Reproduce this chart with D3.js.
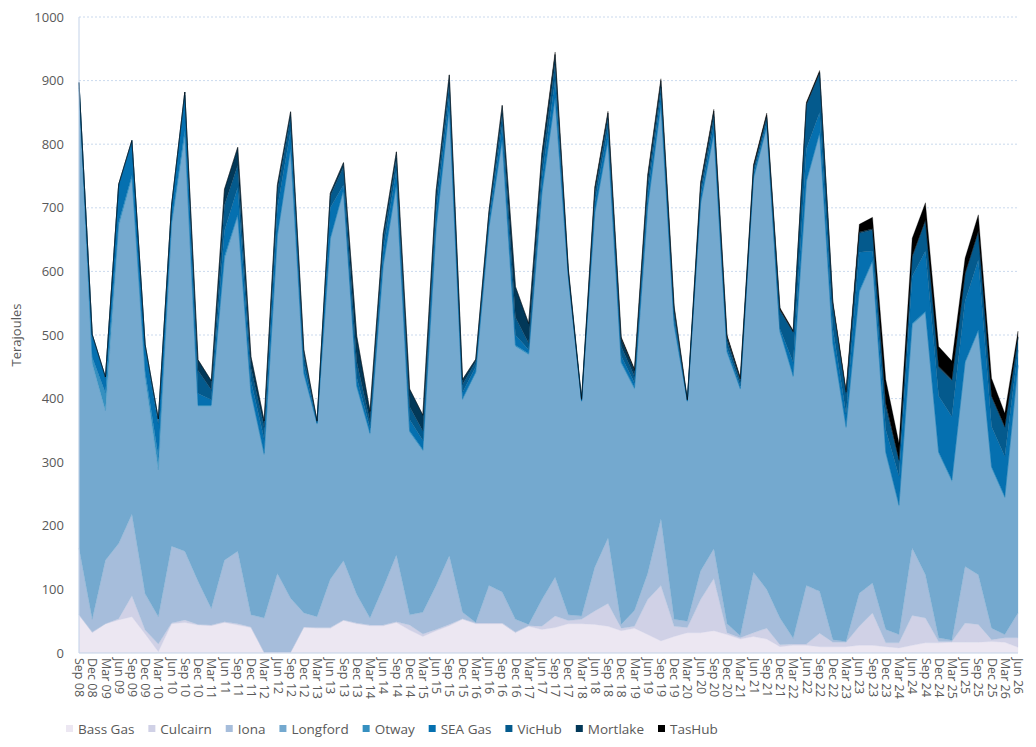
<!DOCTYPE html>
<html>
<head>
<meta charset="utf-8">
<script src="https://cdn.jsdelivr.net/npm/d3@7"></script>
<style>
  body { margin: 0; background: #fff; font-family: "Open Sans", sans-serif; }
</style>
</head>
<body>
<div id="chart"></div>
<script>
// quarters (tick labels)
var quarters = ["Sep 08","Dec 08","Mar 09","Jun 09","Sep 09","Dec 09","Mar 10","Jun 10","Sep 10","Dec 10",
  "Mar 11","Jun 11","Sep 11","Dec 11","Mar 12","Jun 12","Sep 12","Dec 12","Mar 13","Jun 13",
  "Sep 13","Dec 13","Mar 14","Jun 14","Sep 14","Dec 14","Mar 15","Jun 15","Sep 15","Dec 15",
  "Mar 16","Jun 16","Sep 16","Dec 16","Mar 17","Jun 17","Sep 17","Dec 17","Mar 18","Jun 18",
  "Sep 18","Dec 18","Mar 19","Jun 19","Sep 19","Dec 19","Mar 20","Jun 20","Sep 20","Dec 20",
  "Mar 21","Jun 21","Sep 21","Dec 21","Mar 22","Jun 22","Sep 22","Dec 22","Mar 23","Jun 23",
  "Sep 23","Dec 23","Mar 24","Jun 24","Sep 24","Dec 24","Mar 25","Jun 25","Sep 25","Dec 25",
  "Mar 26","Jun 26"];

// series values (TJ)
var bassGas = [60,32,46,52,57,30,2,46,48,44, 43,48,44,40,1,1,1,40,39,39, 51,46,43,43,48,36,26,35,43,53,
  46,46,46,32,42,37,40,46,46,45, 42,35,39,29,19,26,32,32,35,29, 22,26,22,10,12,12,10,10,10,12,
  12,10,8,12,16,16,17,17,17,18, 17,9];
var culcairn = [0,1,0,2,33,6,12,1,4,1, 1,1,2,1,0,0,0,1,1,1, 1,1,1,1,1,8,4,2,2,1,
  1,1,1,1,1,5,18,5,7,21, 36,4,3,55,87,16,8,52,82,3, 2,6,17,3,2,2,21,7,7,30,
  51,6,8,47,39,2,1,30,28,3, 7,15];
var iona = [105,20,100,118,128,57,43,121,108,68, 26,97,114,19,54,124,85,22,17,76, 93,45,11,59,105,16,34,69,108,10,
  1,59,49,20,2,42,61,9,5,69, 103,6,25,41,105,11,10,45,47,14, 3,95,61,42,9,92,66,4,1,52,
  47,21,13,106,68,6,2,89,78,18, 5,39];
var longford = [720,402,235,499,529,340,231,504,652,275, 318,473,527,348,257,530,705,375,303,534, 581,326,289,505,581,287,254,560,702,334,
  392,562,709,429,424,638,752,530,338,555, 624,410,348,575,649,461,346,576,651,426, 388,618,726,449,411,634,719,464,336,473,
  505,277,202,351,412,290,250,320,383,252, 215,388];
var otway = [4,10,28,6,4,10,20,5,10,2, 2,5,2,2,2,2,2,2,1,2, 2,2,2,2,2,2,2,2,2,2,
  2,2,2,2,2,2,2,1,0,2, 2,2,2,2,2,2,0,2,2,2, 1,2,2,2,2,2,2,2,2,2,
  2,2,2,2,2,2,2,2,2,2, 2,2];
var seaGas = [8,34,23,58,53,38,52,25,55,18, 8,40,43,18,23,43,28,13,1,48, 8,13,8,23,23,18,14,26,20,10,
  8,10,23,16,6,23,28,4,1,16, 18,10,8,20,16,8,1,12,14,6, 4,6,6,4,21,51,32,23,20,61,
  15,35,45,74,95,88,100,95,110,63, 63,23];
var vicHub = [0,2,2,2,2,4,8,2,5,36, 16,40,35,20,18,26,22,16,2,18, 28,25,10,16,18,20,15,20,20,12,
  8,10,18,28,10,20,25,5,1,14, 15,15,10,15,12,10,1,10,12,10, 7,8,8,28,47,68,62,38,32,30,
  33,36,24,30,47,44,56,42,43,46, 45,20];
var mortlake = [0,0,0,0,0,0,0,0,0,17, 14,25,28,18,10,10,8,8,1,5, 7,40,16,10,10,28,25,12,12,8,
  4,5,13,48,31,17,15,3,1,8, 9,12,9,12,10,9,0,8,9,7, 4,3,3,2,1,2,1,2,2,2,
  2,6,2,2,2,3,2,2,2,2, 2,1];
var tasHub = [0,0,0,0,0,0,0,0,0,0, 0,0,0,0,0,0,0,0,0,0, 0,0,0,0,0,0,0,0,0,0,
  0,0,0,0,0,2,4,2,1,3, 3,3,3,3,3,3,1,3,3,3, 3,4,4,3,2,3,3,3,4,12,
  18,37,26,28,27,31,29,24,26,28, 21,9];

var seriesNames = ["Bass Gas","Culcairn","Iona","Longford","Otway","SEA Gas","VicHub","Mortlake","TasHub"];
var seriesValues = [bassGas, culcairn, iona, longford, otway, seaGas, vicHub, mortlake, tasHub];
var seriesColors = ["#ece7f2","#d0d1e6","#a6bddb","#74a9cf","#3690c0","#0570b0","#045a8d","#023858","#000000"];
var yTicks = [0,100,200,300,400,500,600,700,800,900,1000];

// rows for d3.stack
var rows = quarters.map(function (q, i) {
  var r = { quarter: q };
  seriesNames.forEach(function (k, j) { r[k] = seriesValues[j][i]; });
  return r;
});

//Dimensions and Margins
var margin = { top: 17, right: 18, bottom: 94, left: 79 },
    width = 1036 - margin.left - margin.right,
    height = 747 - margin.top - margin.bottom;

var svg = d3.select("#chart")
  .append("svg")
  .attr("width", 1036)
  .attr("height", 747);

var g = svg.append("g")
  .attr("transform", "translate(" + margin.left + "," + margin.top + ")");

var x = d3.scalePoint().domain(quarters).range([0, width]);
var y = d3.scaleLinear().domain([0, 1000]).range([height, 0]);

//Gridlines
g.selectAll(".grid")
  .data(yTicks.filter(function (d) { return d > 0; }))
  .enter().append("line")
  .attr("x1", 0).attr("x2", width)
  .attr("y1", function (d) { return y(d); })
  .attr("y2", function (d) { return y(d); })
  .attr("stroke", "#bccfe8")
  .attr("stroke-width", 0.8)
  .attr("stroke-dasharray", "2,2");

//Areas
var stack = d3.stack().keys(seriesNames);
var layers = stack(rows);
var area = d3.area()
  .x(function (d) { return x(d.data.quarter); })
  .y0(function (d) { return y(d[0]); })
  .y1(function (d) { return y(d[1]); });

g.selectAll(".layer")
  .data(layers)
  .enter().append("path")
  .attr("d", area)
  .attr("fill", function (d, i) { return seriesColors[i]; })
  .attr("stroke", function (d, i) { return seriesColors[i]; })
  .attr("stroke-width", 0.3);

//Axis lines
g.append("line").attr("x1", 0).attr("x2", 0).attr("y1", 0).attr("y2", height)
  .attr("stroke", "#c3d2e8").attr("stroke-width", 1);
g.append("line").attr("x1", 0).attr("x2", width).attr("y1", height).attr("y2", height)
  .attr("stroke", "#c3d2e8").attr("stroke-width", 1);

//Y axis
var yAxis = g.append("g")
  .call(d3.axisLeft(y).tickValues(yTicks).tickFormat(d3.format("d")).tickSize(0).tickPadding(15));
yAxis.select(".domain").remove();
yAxis.selectAll("text")
  .style("font-family", "'Open Sans', sans-serif")
  .style("font-size", "13px")
  .attr("fill", "#595959");

//X axis
var xAxis = g.append("g")
  .attr("transform", "translate(0," + height + ")")
  .call(d3.axisBottom(x).tickSize(0).tickPadding(0));
xAxis.select(".domain").remove();
xAxis.selectAll("text")
  .attr("transform", "translate(0,5)rotate(90)")
  .attr("x", 0).attr("y", 0).attr("dy", "0.35em")
  .style("text-anchor", "start")
  .style("font-family", "'Open Sans', sans-serif")
  .style("font-size", "12.5px")
  .attr("fill", "#595959");

//Y Axis Label
svg.append("text")
  .attr("transform", "translate(21," + (margin.top + height / 2) + ")rotate(-90)")
  .style("text-anchor", "middle")
  .style("font-size", "13px")
  .attr("fill", "#595959")
  .text("Terajoules");

//Legend
var legend = svg.append("g").attr("transform", "translate(66,729)");
var lx = 0;
seriesNames.forEach(function (name, i) {
  var item = legend.append("g").attr("transform", "translate(" + lx + ",0)");
  item.append("rect").attr("x", 0).attr("y", -4).attr("width", 7).attr("height", 7)
    .attr("fill", seriesColors[i]);
  var t = item.append("text").attr("x", 12).attr("y", 0).attr("dy", "0.35em")
    .style("font-size", "13.5px").attr("fill", "#595959").text(name);
  lx += 12 + t.node().getComputedTextLength() + 14;
});
</script>
</body>
</html>
